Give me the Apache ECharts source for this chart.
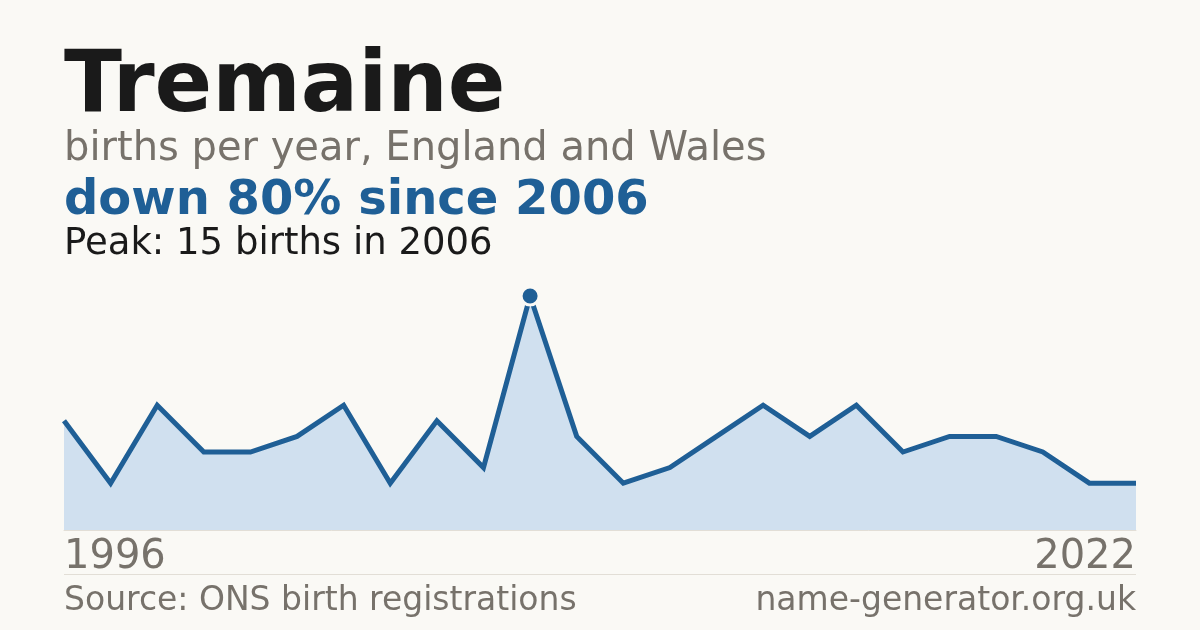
<!DOCTYPE html>
<html>
<head>
<meta charset="utf-8">
<script src="https://cdn.jsdelivr.net/npm/echarts@6/dist/echarts.min.js"></script>
<style>
html,body{margin:0;padding:0;background:#faf9f5;}
#chart{width:1200px;height:630px;}
</style>
</head>
<body>
<div id="chart"></div>
<script>
const years = ['1996','1997','1998','1999','2000','2001','2002','2003','2004','2005','2006',
  '2007','2008','2009','2010','2011','2012','2013','2014','2015','2016','2017','2020','2022'];
const births = [7,3,8,5,5,6,8,3,7,4,15,6,3,4,6,8,6,8,5,6,6,5,3,3];
const titleText = 'Tremaine';
const subtitleText = 'births per year, England and Wales';
const changeText = 'down 80% since 2006';
const peakText = 'Peak: 15 births in 2006';
const sourceText = 'Source: ONS birth registrations';
const siteText = 'name-generator.org.uk';

const FONT = '"DejaVu Sans", sans-serif';
const BLUE = '#1f5f96';
const GRAY = '#77726b';
const chart = echarts.init(document.getElementById('chart'), null, {renderer:'canvas'});
chart.setOption({
  backgroundColor: '#faf9f5',
  animation: false,
  grid: {left: 64, right: 64, top: 296, bottom: 100, containLabel: false},
  xAxis: {
    type: 'category',
    data: years,
    boundaryGap: false,
    axisLine: {show: true, lineStyle: {color: '#e2ded6', width: 1}},
    axisTick: {show: false},
    splitLine: {show: false},
    axisLabel: {
      interval: function (i) { return i === 0 || i === years.length - 1; },
      color: GRAY, fontSize: 40, fontFamily: FONT, margin: 8,
      alignMinLabel: 'left', alignMaxLabel: 'right'
    }
  },
  yAxis: {
    type: 'value', min: 0, max: 15,
    show: false,
    splitLine: {show: false}
  },
  series: [{
    type: 'line',
    data: births,
    symbol: 'none',
    lineStyle: {color: BLUE, width: 5, join: 'miter'},
    areaStyle: {color: '#d0e0ef', opacity: 1},
    markPoint: {
      symbol: 'circle',
      symbolSize: 18,
      itemStyle: {color: BLUE, borderColor: '#faf9f5', borderWidth: 3},
      label: {show: false},
      data: [{type: 'max'}]
    },
    z: 3
  }],
  graphic: [
    {type:'text', left: 64, top: 46, style:{text: titleText, font: 'bold 85px ' + FONT, fill:'#1a1a1a'}},
    {type:'text', left: 64, top: 130, style:{text: subtitleText, font: '40px ' + FONT, fill: GRAY}},
    {type:'text', left: 64, top: 178, style:{text: changeText, font: 'bold 48px ' + FONT, fill: BLUE}},
    {type:'text', left: 64, top: 226, style:{text: peakText, font: '37px ' + FONT, fill: '#1a1a1a'}},
    {type:'line', shape:{x1:64, y1:574.5, x2:1136, y2:574.5}, style:{stroke:'#e2ded6', lineWidth:1}},
    {type:'text', left: 64, top: 585, style:{text: sourceText, font: '33px ' + FONT, fill: GRAY}},
    {type:'text', right: 64, top: 585, style:{text: siteText, font: '33px ' + FONT, fill: GRAY}}
  ]
});
</script>
</body>
</html>
